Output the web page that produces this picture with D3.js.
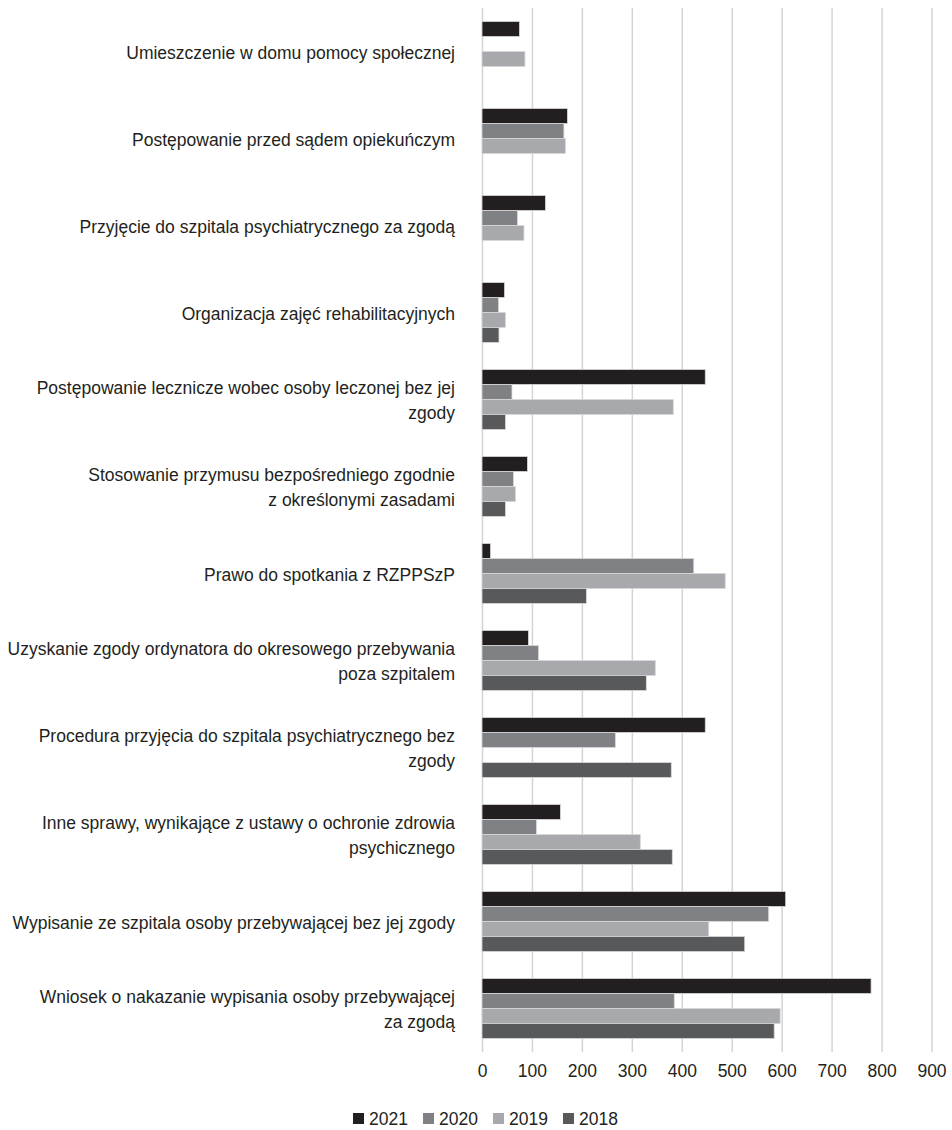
<!DOCTYPE html>
<html>
<head>
<meta charset="utf-8">
<script src="https://cdn.jsdelivr.net/npm/d3@7"></script>
<style>
	body { margin: 0; background: #fff; }
	svg text { font-family: "Liberation Sans", Arial, sans-serif; fill: #231f20; }
</style>
</head>
<body>
<script>
// categories, top to bottom (each entry = wrapped lines of the label)
const categories = [
	["Umieszczenie w domu pomocy społecznej"],
	["Postępowanie przed sądem opiekuńczym"],
	["Przyjęcie do szpitala psychiatrycznego za zgodą"],
	["Organizacja zajęć rehabilitacyjnych"],
	["Postępowanie lecznicze wobec osoby leczonej bez jej", "zgody"],
	["Stosowanie przymusu bezpośredniego zgodnie", "z określonymi zasadami"],
	["Prawo do spotkania z RZPPSzP"],
	["Uzyskanie zgody ordynatora do okresowego przebywania", "poza szpitalem"],
	["Procedura przyjęcia do szpitala psychiatrycznego bez", "zgody"],
	["Inne sprawy, wynikające z ustawy o ochronie zdrowia", "psychicznego"],
	["Wypisanie ze szpitala osoby przebywającej bez jej zgody"],
	["Wniosek o nakazanie wypisania osoby przebywającej", "za zgodą"],
];

const years = ["2021", "2020", "2019", "2018"];

const values2021 = [75, 171, 127, 45, 447, 91, 17, 93, 447, 157, 608, 779];
const values2020 = [0, 164, 71, 33, 60, 63, 424, 113, 267, 109, 574, 385];
const values2019 = [86, 167, 84, 47, 383, 67, 487, 347, 0, 317, 454, 597];
const values2018 = [0, 0, 0, 34, 47, 47, 209, 329, 379, 381, 526, 585];

const xTicks = [0, 100, 200, 300, 400, 500, 600, 700, 800, 900];

const seriesValues = [values2021, values2020, values2019, values2018];

const width = 952;
const height = 1130;
const margin = { left: 482, right: 20.5, top: 8, bottom: 78 };

const svg = d3
	.select("body")
	.append("svg")
	.attr("width", width)
	.attr("height", height);

// rows: one per category, holding the 4 year values
const rows = categories.map((lines, i) => ({
	id: i,
	lines,
	bars: years.map((year, j) => ({ year, value: seriesValues[j][i] })),
}));

const xScale = d3
	.scaleLinear()
	.domain([0, 900])
	.range([margin.left, width - margin.right]);

const yScale = d3
	.scaleBand()
	.domain(rows.map((d) => d.id))
	.range([margin.top, height - margin.bottom])
	.paddingInner(0.31)
	.paddingOuter(0.155);

const ySecondScale = d3
	.scaleBand()
	.domain(years)
	.range([0, yScale.bandwidth()]);

const colorScale = d3
	.scaleOrdinal()
	.domain(years)
	.range(["#231f20", "#808184", "#a7a9ac", "#58595b"]);

// vertical gridlines
const grid = svg
	.append("g")
	.attr("transform", `translate(0 ${height - margin.bottom})`)
	.call(
		d3
			.axisBottom(xScale)
			.tickValues(xTicks)
			.tickSize(-(height - margin.top - margin.bottom))
			.tickFormat("")
	);
grid.select(".domain").remove();
grid.selectAll("line").attr("stroke", "#d4d4d6").attr("stroke-width", 1.5);

// tick labels
const axis = svg
	.append("g")
	.attr("transform", `translate(0 ${height - margin.bottom + 10})`)
	.call(d3.axisBottom(xScale).tickValues(xTicks).tickSize(0).tickPadding(0));
axis.select(".domain").remove();
axis
	.selectAll("text")
	.attr("dy", null)
	.attr("y", 9)
	.attr("dominant-baseline", "central")
	.style("font-size", "17.5px")
	.style("font-family", '"Liberation Sans", Arial, sans-serif')
	.attr("fill", "#231f20");

// bars
svg
	.append("g")
	.selectAll("g")
	.data(rows)
	.join("g")
	.attr("transform", (d) => `translate(0 ${yScale(d.id)})`)
	.selectAll("rect")
	.data((d) => d.bars.filter((b) => b.value > 0))
	.join("rect")
	.attr("x", xScale(0))
	.attr("y", (d) => ySecondScale(d.year))
	.attr("width", (d) => xScale(d.value) - xScale(0))
	.attr("height", ySecondScale.bandwidth())
	.attr("fill", (d) => colorScale(d.year))
	.attr("stroke", "#d8d8da")
	.attr("stroke-width", 0.8);

// category labels
const lineHeight = 25.5;
const labels = svg
	.append("g")
	.selectAll("text")
	.data(rows)
	.join("text")
	.attr("x", 455)
	.attr("y", (d) => yScale(d.id) + yScale.bandwidth() / 2)
	.attr("text-anchor", "end")
	.style("font-size", "17.5px");

labels
	.selectAll("tspan")
	.data((d) => d.lines.map((line, i) => ({ line, i, n: d.lines.length })))
	.join("tspan")
	.attr("x", 455)
	.attr("dy", (d) =>
		d.i === 0 ? -((d.n - 1) * lineHeight) / 2 + 7 : lineHeight
	)
	.text((d) => d.line);

// legend
const legend = svg.append("g").attr("transform", `translate(353 1118)`);
const legendItems = legend
	.selectAll("g")
	.data(years)
	.join("g")
	.attr("transform", (d, i) => `translate(${i * 70} 0)`);

legendItems
	.append("rect")
	.attr("x", 0)
	.attr("y", -5)
	.attr("width", 11)
	.attr("height", 11)
	.attr("fill", (d) => colorScale(d));

legendItems
	.append("text")
	.attr("x", 16)
	.attr("y", 6.5)
	.style("font-size", "17.5px")
	.text((d) => d);
</script>
</body>
</html>
